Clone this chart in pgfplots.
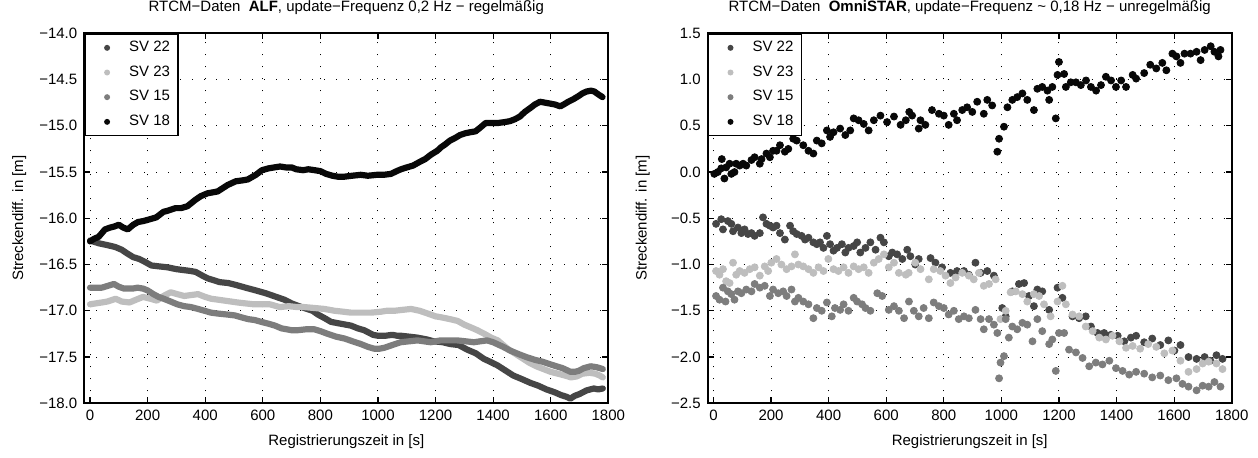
\documentclass[border=0pt]{standalone}
\usepackage{fontspec}
\setmainfont{Liberation Sans}
\usepackage{pgfplots}
\pgfplotsset{compat=1.18}
\definecolor{cA}{RGB}{70,70,70}
\definecolor{cB}{RGB}{190,190,190}
\definecolor{cC}{RGB}{125,125,125}
\definecolor{cD}{RGB}{8,8,8}
\pgfplotsset{
  common/.style={
    anchor=south west, width=262pt, height=185pt, scale only axis,
    xmin=-20, xmax=1800,
    xtick={0,200,...,1800},
    xticklabels={0,200,400,600,800,1000,1200,1400,1600,1800},
    font=\fontsize{7.5}{9}\selectfont,
    ticklabel style={font=\fontsize{7.5}{9}\selectfont},
    tick align=inside, major tick length=3pt,
    axis line style={line width=0.9pt},
    every tick/.style={black, line width=0.6pt},
    grid=major,
    major grid style={black, line width=0.5pt, dash pattern=on 0.5pt off 5.5pt},
    title style={at={(axis description cs:0.5,1)}, anchor=base, yshift=5pt, font=\fontsize{7.5}{9}\selectfont},
    xlabel={Registrierungszeit in [s]},
    ylabel={Streckendiff. in [m]},
    xlabel style={at={(axis description cs:0.5,0)}, anchor=base, yshift=-21pt},
    ylabel style={at={(axis description cs:-0.124,0.5)}, anchor=center, rotate=0},
    legend style={at={(0,1)}, anchor=north west, draw=black, line width=0.8pt, fill=white,
      font=\fontsize{7.5}{9}\selectfont, inner xsep=2pt, inner ysep=1.5pt, row sep=1.6pt,
      cells={anchor=west}},
    legend cell align=left,
  },
  legdot/.style={legend image code/.code={\path[draw=none,fill=none] (0pt,0pt) -- (18pt,0pt);
       \fill[#1, draw=none] (9pt,0pt) circle (1.5pt);}},
  band/.style={line width=3.1pt, line join=round, line cap=round, no marks},
  dots/.style={only marks, mark=*, mark size=1.75pt, mark options={draw=none}},
}
\begin{document}
\begin{tikzpicture}
\useasboundingbox (0,0) rectangle (629pt,229pt);
% ---------------- left panel ----------------
\begin{axis}[common, at={(42.15pt,27.35pt)},
  ymin=-18, ymax=-14, ytick={-18,-17.5,...,-14},
  yticklabels={−18.0,−17.5,−17.0,−16.5,−16.0,−15.5,−15.0,−14.5,−14.0},
  title={RTCM−Daten\ \ \textbf{ALF}, update−Frequenz 0,2 Hz − regelmäßig}]
\addlegendimage{legdot={cA}}\addlegendentry{SV 22}
\addlegendimage{legdot={cB}}\addlegendentry{SV 23}
\addlegendimage{legdot={cC}}\addlegendentry{SV 15}
\addlegendimage{legdot={cD}}\addlegendentry{SV 18}
% SV 22
\addplot[band, cA, forget plot] coordinates {
(0,-16.24)(30,-16.27)(60,-16.29)(87,-16.31)(110,-16.34)(129,-16.38)(150,-16.42)(171,-16.44)(190,-16.47)(213,-16.51)
(240,-16.52)(269,-16.53)(300,-16.55)(325,-16.56)(350,-16.57)(367,-16.58)(390,-16.62)(409,-16.65)(430,-16.67)(450,-16.69)
(480,-16.70)(506,-16.72)(540,-16.75)(576,-16.78)(610,-16.81)(647,-16.85)(675,-16.88)(700,-16.92)(717,-16.94)(744,-16.97)
(773,-17.00)(791,-17.04)(815,-17.08)(837,-17.12)(871,-17.14)(906,-17.16)(930,-17.19)(952,-17.21)(983,-17.26)(1000,-17.27)
(1025,-17.27)(1050,-17.26)(1067,-17.27)(1081,-17.27)(1110,-17.28)(1137,-17.29)(1170,-17.31)(1194,-17.33)(1225,-17.34)(1252,-17.36)
(1280,-17.37)(1310,-17.42)(1340,-17.46)(1368,-17.52)(1389,-17.55)(1415,-17.59)(1445,-17.65)(1470,-17.70)(1501,-17.74)(1530,-17.78)
(1557,-17.81)(1585,-17.85)(1613,-17.88)(1635,-17.91)(1655,-17.93)(1668,-17.95)(1683,-17.92)(1700,-17.90)(1725,-17.86)(1750,-17.84)
(1765,-17.85)(1781,-17.84)};
% SV 23
\addplot[band, cB, forget plot] coordinates {
(0,-16.93)(20,-16.92)(41,-16.91)(60,-16.90)(89,-16.87)(110,-16.90)(137,-16.91)(160,-16.88)(184,-16.85)(210,-16.87)
(232,-16.89)(255,-16.84)(280,-16.80)(303,-16.82)(327,-16.84)(350,-16.83)(375,-16.82)(400,-16.85)(421,-16.87)(445,-16.88)
(467,-16.89)(490,-16.90)(512,-16.91)(540,-16.92)(569,-16.93)(600,-16.93)(625,-16.93)(659,-16.96)(690,-16.95)(720,-16.96)
(744,-16.96)(780,-16.97)(814,-16.98)(850,-17.00)(880,-17.01)(906,-17.02)(940,-17.02)(976,-17.02)(1010,-17.01)(1030,-17.00)
(1057,-17.00)(1085,-16.99)(1115,-16.98)(1145,-17.00)(1173,-17.03)(1200,-17.06)(1219,-17.07)(1250,-17.09)(1277,-17.11)(1300,-17.15)
(1323,-17.18)(1345,-17.21)(1370,-17.25)(1393,-17.29)(1416,-17.32)(1435,-17.37)(1450,-17.41)(1475,-17.46)(1500,-17.51)(1525,-17.56)
(1550,-17.60)(1575,-17.63)(1600,-17.66)(1625,-17.68)(1650,-17.70)(1670,-17.72)(1690,-17.71)(1710,-17.68)(1735,-17.67)(1755,-17.68)
(1770,-17.70)(1781,-17.72)};
% SV 15
\addplot[band, cC, forget plot] coordinates {
(0,-16.75)(20,-16.75)(41,-16.75)(62,-16.73)(83,-16.71)(100,-16.74)(118,-16.76)(148,-16.76)(165,-16.75)(184,-16.76)
(200,-16.78)(220,-16.82)(238,-16.85)(256,-16.87)(280,-16.90)(303,-16.93)(327,-16.95)(351,-16.96)(375,-16.98)(398,-17.00)
(420,-17.02)(444,-17.03)(475,-17.04)(503,-17.05)(525,-17.07)(549,-17.09)(572,-17.10)(595,-17.12)(620,-17.14)(642,-17.16)
(665,-17.19)(683,-17.20)(700,-17.21)(721,-17.21)(750,-17.20)(779,-17.20)(800,-17.22)(826,-17.25)(855,-17.28)(884,-17.30)
(912,-17.33)(941,-17.36)(965,-17.39)(987,-17.41)(1005,-17.41)(1022,-17.40)(1050,-17.37)(1079,-17.34)(1108,-17.33)(1137,-17.32)
(1160,-17.33)(1183,-17.34)(1200,-17.33)(1217,-17.32)(1245,-17.32)(1275,-17.32)(1305,-17.33)(1333,-17.34)(1355,-17.33)(1379,-17.32)
(1400,-17.34)(1414,-17.36)(1435,-17.39)(1459,-17.43)(1490,-17.47)(1515,-17.50)(1545,-17.53)(1571,-17.55)(1600,-17.58)(1620,-17.60)
(1641,-17.62)(1655,-17.64)(1669,-17.66)(1683,-17.66)(1697,-17.65)(1715,-17.62)(1739,-17.60)(1760,-17.61)(1781,-17.63)};
% SV 18
\addplot[band, cD, forget plot] coordinates {
(0,-16.25)(15,-16.22)(30,-16.20)(52,-16.12)(70,-16.10)(83,-16.09)(100,-16.07)(115,-16.10)(131,-16.12)(150,-16.07)
(167,-16.04)(185,-16.03)(208,-16.01)(230,-15.99)(255,-15.93)(268,-15.92)(297,-15.89)(316,-15.89)(338,-15.87)(366,-15.80)
(385,-15.76)(408,-15.73)(443,-15.71)(478,-15.64)(506,-15.60)(530,-15.59)(548,-15.58)(576,-15.53)(597,-15.48)(620,-15.46)
(640,-15.45)(660,-15.44)(680,-15.45)(700,-15.45)(716,-15.47)(740,-15.48)(758,-15.47)(780,-15.48)(800,-15.49)(820,-15.52)
(842,-15.54)(860,-15.55)(884,-15.55)(910,-15.54)(940,-15.53)(965,-15.54)(996,-15.53)(1020,-15.53)(1045,-15.52)(1065,-15.49)
(1080,-15.47)(1100,-15.45)(1122,-15.43)(1145,-15.39)(1164,-15.36)(1185,-15.31)(1206,-15.27)(1220,-15.23)(1234,-15.20)(1250,-15.16)
(1269,-15.13)(1285,-15.10)(1304,-15.08)(1320,-15.07)(1339,-15.06)(1355,-15.02)(1374,-14.97)(1395,-14.97)(1416,-14.97)(1440,-14.96)
(1458,-14.95)(1475,-14.93)(1493,-14.90)(1510,-14.85)(1528,-14.81)(1545,-14.77)(1563,-14.74)(1580,-14.75)(1598,-14.76)(1615,-14.77)
(1633,-14.79)(1645,-14.77)(1661,-14.74)(1680,-14.71)(1696,-14.68)(1710,-14.65)(1724,-14.63)(1740,-14.62)(1752,-14.63)(1765,-14.66)
(1780,-14.69)};
\end{axis}
% ---------------- right panel ----------------
\begin{axis}[common, at={(353.85pt,27.35pt)},
  ymin=-2.5, ymax=1.5, ytick={-2.5,-2,...,1.5},
  yticklabels={−2.5,−2.0,−1.5,−1.0,−0.5,0.0,0.5,1.0,1.5},
  title={RTCM−Daten\ \ \textbf{OmniSTAR}, update−Frequenz \textasciitilde\ 0,18 Hz − unregelmäßig}]
\addlegendimage{legdot={cA}}\addlegendentry{SV 22}
\addlegendimage{legdot={cB}}\addlegendentry{SV 23}
\addlegendimage{legdot={cC}}\addlegendentry{SV 15}
\addlegendimage{legdot={cD}}\addlegendentry{SV 18}
% SV 22
\addplot[dots, cA, forget plot] coordinates {
(9,-0.56)(27,-0.51)(33,-0.62)(50,-0.53)(62,-0.56)(68,-0.64)(85,-0.60)(97,-0.66)(108,-0.62)(120,-0.67)
(132,-0.66)(143,-0.69)(161,-0.66)(172,-0.49)(184,-0.56)(196,-0.58)(207,-0.60)(219,-0.58)(231,-0.66)(248,-0.73)
(266,-0.58)(277,-0.64)(289,-0.67)(306,-0.69)(318,-0.73)(330,-0.71)(347,-0.76)(359,-0.78)(370,-0.76)(382,-0.82)
(394,-0.69)(405,-0.78)(417,-0.85)(429,-0.82)(446,-0.78)(458,-0.87)(469,-0.82)(487,-0.80)(499,-0.76)(510,-0.87)
(528,-0.82)(545,-0.76)(563,-0.84)(580,-0.71)(592,-0.76)(609,-0.91)(621,-0.87)(638,-0.89)(656,-0.94)(673,-0.84)
(684,-0.91)(701,-1.00)(713,-0.94)(754,-0.93)(771,-0.98)(794,-1.03)(823,-1.09)(846,-1.07)(870,-1.07)(887,-1.11)
(910,-0.98)(928,-1.09)(951,-1.07)(974,-1.12)(1003,-1.47)(1015,-1.56)(1038,-1.29)(1061,-1.21)(1079,-1.20)(1096,-1.34)
(1113,-1.45)(1125,-1.27)(1142,-1.29)(1166,-1.49)(1195,-1.25)(1212,-1.36)(1247,-1.56)(1270,-1.58)(1293,-1.56)(1311,-1.67)
(1334,-1.74)(1357,-1.74)(1380,-1.76)(1404,-1.77)(1427,-1.83)(1450,-1.79)(1468,-1.77)(1496,-1.84)(1524,-1.80)(1552,-1.87)
(1580,-1.82)(1601,-1.93)(1622,-1.87)(1650,-2.00)(1678,-2.02)(1706,-2.00)(1726,-2.04)(1747,-1.98)(1768,-2.02)};
% SV 23
\addplot[dots, cB, forget plot] coordinates {
(9,-1.07)(21,-1.11)(33,-1.05)(44,-1.18)(56,-1.20)(68,-0.98)(79,-1.11)(91,-1.07)(108,-1.09)(126,-1.05)
(143,-1.03)(161,-1.12)(178,-1.02)(190,-1.07)(201,-0.98)(219,-0.94)(236,-1.00)(254,-1.05)(271,-1.02)(283,-0.89)
(295,-1.00)(312,-1.02)(330,-1.05)(347,-1.09)(365,-1.03)(382,-1.07)(399,-0.94)(417,-1.05)(434,-1.07)(452,-1.03)
(469,-1.09)(487,-1.02)(504,-1.05)(522,-1.03)(539,-1.09)(557,-0.98)(574,-0.94)(592,-0.89)(609,-1.03)(627,-0.98)
(644,-1.09)(668,-1.11)(678,-1.09)(701,-0.98)(719,-1.05)(748,-1.16)(765,-1.05)(788,-1.07)(806,-1.12)(823,-1.20)
(841,-1.14)(864,-1.09)(887,-1.12)(904,-1.16)(922,-1.09)(939,-1.23)(957,-1.21)(980,-1.16)(997,-1.59)(1015,-1.50)
(1032,-1.30)(1050,-1.29)(1073,-1.32)(1090,-1.40)(1113,-1.32)(1131,-1.34)(1148,-1.43)(1171,-1.56)(1195,-1.40)(1212,-1.23)
(1224,-1.43)(1247,-1.54)(1270,-1.56)(1293,-1.67)(1317,-1.72)(1340,-1.79)(1363,-1.81)(1386,-1.77)(1410,-1.83)(1433,-1.90)
(1456,-1.88)(1482,-1.91)(1510,-1.86)(1538,-1.89)(1566,-1.96)(1594,-1.93)(1622,-2.04)(1650,-2.16)(1678,-2.13)(1699,-2.07)
(1720,-2.05)(1747,-2.07)(1768,-2.13)};
% SV 15
\addplot[dots, cC, forget plot] coordinates {
(9,-1.34)(21,-1.38)(33,-1.25)(42,-1.40)(50,-1.29)(62,-1.32)(73,-1.38)(85,-1.29)(97,-1.31)(114,-1.27)
(132,-1.29)(143,-1.21)(161,-1.25)(178,-1.23)(196,-1.34)(207,-1.27)(225,-1.31)(242,-1.29)(254,-1.34)(271,-1.27)
(283,-1.40)(295,-1.36)(312,-1.40)(330,-1.43)(347,-1.58)(359,-1.47)(376,-1.50)(394,-1.41)(411,-1.56)(422,-1.47)
(440,-1.49)(452,-1.43)(469,-1.50)(487,-1.36)(499,-1.40)(516,-1.43)(528,-1.47)(545,-1.50)(569,-1.31)(586,-1.34)
(609,-1.49)(627,-1.45)(644,-1.50)(662,-1.58)(679,-1.40)(696,-1.50)(713,-1.56)(730,-1.47)(748,-1.58)(765,-1.41)
(783,-1.45)(800,-1.47)(817,-1.54)(835,-1.50)(852,-1.59)(870,-1.56)(887,-1.58)(910,-1.49)(928,-1.59)(939,-1.70)
(957,-1.59)(974,-1.65)(986,-1.74)(992,-2.23)(997,-2.06)(1009,-1.99)(1015,-1.59)(1026,-1.79)(1038,-1.67)(1055,-1.70)
(1073,-1.63)(1090,-1.65)(1108,-1.83)(1125,-1.59)(1142,-1.72)(1166,-1.86)(1177,-1.81)(1189,-2.15)(1200,-1.74)(1218,-1.74)
(1235,-1.92)(1259,-1.95)(1282,-2.01)(1305,-2.10)(1328,-2.06)(1351,-2.08)(1375,-2.04)(1398,-2.12)(1421,-2.15)(1444,-2.19)
(1468,-2.16)(1496,-2.18)(1524,-2.22)(1552,-2.20)(1580,-2.25)(1608,-2.23)(1629,-2.29)(1650,-2.32)(1678,-2.36)(1699,-2.31)
(1720,-2.32)(1740,-2.27)(1761,-2.32)};
% SV 18
\addplot[dots, cD, forget plot] coordinates {
(3,-0.02)(15,0.00)(27,0.04)(29,0.14)(38,-0.07)(44,0.05)(56,0.09)(62,-0.02)(73,0.00)(79,0.09)
(91,0.07)(103,0.09)(114,0.07)(132,0.13)(143,0.16)(161,0.09)(167,0.14)(184,0.20)(196,0.16)(207,0.23)
(219,0.23)(231,0.29)(248,0.22)(260,0.25)(277,0.36)(289,0.34)(312,0.29)(330,0.23)(347,0.20)(359,0.34)
(376,0.31)(394,0.45)(405,0.38)(417,0.43)(440,0.47)(458,0.40)(475,0.45)(487,0.58)(504,0.56)(522,0.52)
(539,0.45)(557,0.56)(580,0.61)(603,0.54)(627,0.60)(650,0.51)(668,0.56)(680,0.65)(690,0.61)(713,0.47)
(719,0.56)(736,0.51)(759,0.67)(783,0.63)(800,0.61)(817,0.51)(835,0.63)(846,0.56)(864,0.67)(881,0.70)
(899,0.65)(916,0.76)(939,0.63)(951,0.78)(968,0.72)(986,0.22)(992,0.36)(1009,0.49)(1021,0.70)(1038,0.78)
(1055,0.81)(1073,0.85)(1090,0.78)(1113,0.67)(1125,0.90)(1142,0.92)(1160,0.88)(1166,0.78)(1177,0.92)(1189,0.58)
(1195,1.05)(1200,1.19)(1218,1.06)(1224,0.92)(1241,0.97)(1259,0.97)(1276,0.94)(1294,0.99)(1311,0.92)(1329,0.88)
(1346,0.94)(1363,1.03)(1381,0.99)(1398,0.92)(1416,0.99)(1433,0.92)(1456,1.05)(1468,1.01)(1496,1.07)(1517,1.16)
(1538,1.12)(1559,1.18)(1573,1.10)(1594,1.28)(1608,1.25)(1622,1.18)(1636,1.28)(1657,1.28)(1678,1.30)(1692,1.21)
(1706,1.32)(1727,1.36)(1740,1.30)(1754,1.25)(1761,1.32)};
\end{axis}
\end{tikzpicture}
\end{document}
